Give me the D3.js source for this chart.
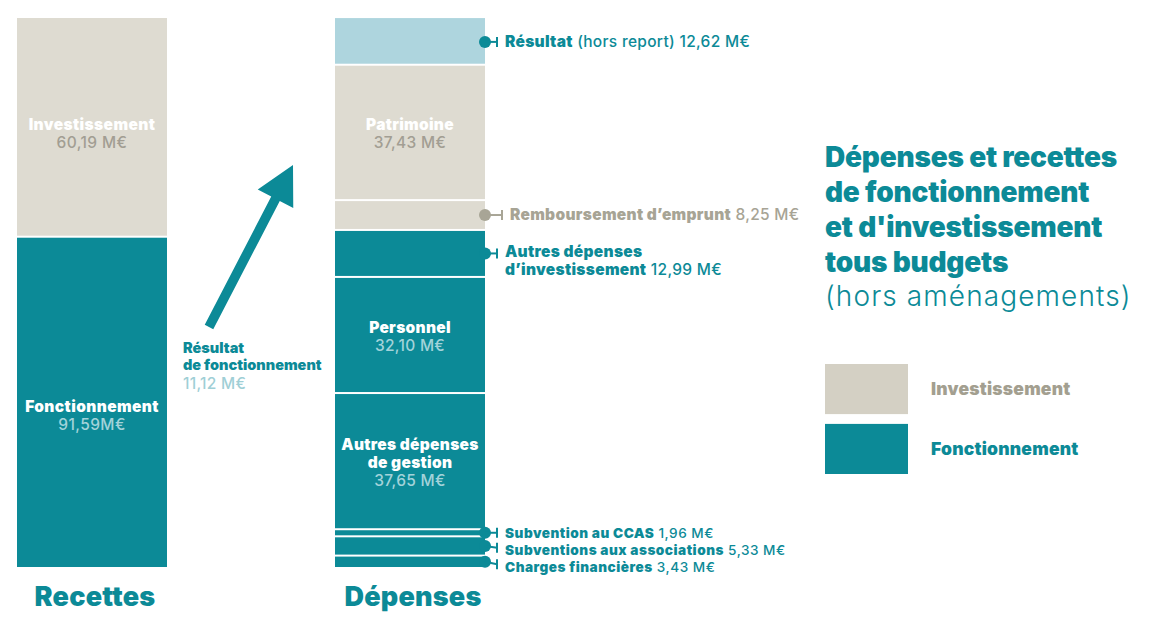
<!DOCTYPE html>
<html><head><meta charset="utf-8">
<script src="https://cdn.jsdelivr.net/npm/d3@7"></script>
<style>
html,body{margin:0;padding:0;background:#fff;}
svg{display:block;font-family:Inter,"Noto Sans",sans-serif;}
</style></head>
<body>
<svg id="c" width="1151" height="632"></svg>
<script>
// ---- data ----
const recettesNames = ["Fonctionnement", "Investissement"];
const recettesValues = [91.59, 60.19];
const recettesLabels = ["91,59M€", "60,19 M€"];
const recettesGroups = ["fonct", "invest"];

const depensesNames = ["Charges financières", "Subventions aux associations", "Subvention au CCAS",
  "Autres dépenses de gestion", "Personnel", "Autres dépenses d’investissement",
  "Remboursement d’emprunt", "Patrimoine", "Résultat"];
const depensesValues = [3.43, 5.33, 1.96, 37.65, 32.10, 12.99, 8.25, 37.43, 12.62];
const depensesLabels = ["3,43 M€", "5,33 M€", "1,96 M€", "37,65 M€", "32,10 M€", "12,99 M€", "8,25 M€", "37,43 M€", "12,62 M€"];
const depensesGroups = ["fonct", "fonct", "fonct", "fonct", "fonct", "fonct", "invest", "invest", "resultat"];
// how each expense is labelled: inside the bar or outside with a callout
const depensesInside = [false, false, false, true, true, false, false, true, false];

const resultatFonct = 11.12;
const resultatFonctLabel = "11,12 M€";
const columns = ["Recettes", "Dépenses"];
const legendItems = ["Investissement", "Fonctionnement"];
const titleLines = ["Dépenses et recettes", "de fonctionnement", "et d'investissement", "tous budgets"];
const subtitle = "(hors aménagements)";

// ---- styles / layout ----
const TEAL = "#0c8a97";
const fill = {fonct: TEAL, invest: "#dedbd1", resultat: "#aed5de"};
const valColor = {fonct: "#a3d3da", invest: "#a29e93", resultat: TEAL};
const outColor = {fonct: TEAL, invest: "#a7a495", resultat: TEAL};
const recettesLabelShift = [14, 6];
const FS = 15.5, LS = 0.3, BW = 900;

const svg = d3.select("#c");
const total = d3.max([d3.sum(recettesValues), d3.sum(depensesValues)]);
const y = d3.scaleLinear().domain([0, total]).range([567, 18]);
const x = d3.scaleBand().domain(columns).range([17, 485]).paddingInner(168/318).paddingOuter(0);
const GAP = 2;

function stack(values){ let acc = 0; return values.map(v => { const s = acc; acc += v; return [s, acc]; }); }

function drawColumn(col, values, groups){
  const st = stack(values);
  svg.append("g").selectAll("rect").data(values).join("rect")
    .attr("x", x(col)).attr("width", x.bandwidth())
    .attr("y", (d,i) => y(st[i][1]) + (i === values.length - 1 ? 0 : GAP))
    .attr("height", (d,i) => y(st[i][0]) - y(st[i][1]) - (i === values.length - 1 ? 0 : GAP))
    .attr("fill", (d,i) => fill[groups[i]]);
  return st;
}

// Recettes
const stR = drawColumn("Recettes", recettesValues, recettesGroups);
const cxR = x("Recettes") + x.bandwidth()/2;
recettesNames.forEach((n,i) => {
  const mid = (y(stR[i][0]) + y(stR[i][1]))/2 + recettesLabelShift[i];
  const t = svg.append("text").attr("text-anchor","middle").attr("font-size", FS).attr("letter-spacing", 0.4);
  t.append("tspan").attr("x", cxR).attr("y", mid - 3).attr("font-weight", BW).attr("fill","#fff").text(n);
  t.append("tspan").attr("x", cxR).attr("y", mid + 15).attr("font-weight", 500).attr("fill", valColor[recettesGroups[i]]).text(recettesLabels[i]);
});

// Dépenses
const stD = drawColumn("Dépenses", depensesValues, depensesGroups);
const cxD = x("Dépenses") + x.bandwidth()/2;
const right = x("Dépenses") + x.bandwidth();
let prevTextY = -Infinity;
// iterate from the top of the column downward for the callouts (dodging)
const order = d3.range(depensesNames.length).reverse();
order.forEach(i => {
  const n = depensesNames[i];
  const grp = depensesGroups[i];
  const mid = (y(stD[i][0]) + y(stD[i][1]))/2 + 1;
  if (depensesInside[i]) {
    const lines = n === "Autres dépenses de gestion" ? ["Autres dépenses", "de gestion"] : [n];
    const n0 = lines.length + 1;
    const t = svg.append("text").attr("text-anchor","middle").attr("font-size", FS).attr("letter-spacing", 0.3);
    const top = mid - (n0-1)*18/2 + 7;
    lines.forEach((l,k) => t.append("tspan").attr("x", cxD).attr("y", top + k*18).attr("font-weight", BW).attr("fill","#fff").text(l));
    t.append("tspan").attr("x", cxD).attr("y", top + lines.length*18).attr("font-weight", 500).attr("fill", valColor[grp]).text(depensesLabels[i]);
  } else {
    const c = outColor[grp];
    const lc = grp === "invest" ? "#a8a596" : TEAL;
    const off = grp === "invest" ? 5 : 0;
    const small = i <= 2;
    const ty = Math.max(mid, prevTextY + 17);
    prevTextY = ty;
    svg.append("circle").attr("cx", right).attr("cy", mid).attr("r", 6).attr("fill", lc);
    svg.append("path").attr("fill","none").attr("stroke", lc).attr("stroke-width", 2)
      .attr("d", `M${right},${mid} L${right+12+off},${(mid+ty)/2}`);
    svg.append("line").attr("x1", right + 12 + off).attr("x2", right + 12 + off)
      .attr("y1", (mid+ty)/2 - 5).attr("y2", (mid+ty)/2 + 5).attr("stroke", lc).attr("stroke-width", 2);
    const tx = right + 20 + off;
    const t = svg.append("text").attr("font-size", small ? 13.6 : FS).attr("letter-spacing", small ? 0.5 : LS).attr("fill", c);
    if (n === "Autres dépenses d’investissement") {
      t.append("tspan").attr("x", tx).attr("y", ty + 4).attr("font-weight", BW).text("Autres dépenses");
      t.append("tspan").attr("x", tx).attr("y", ty + 22).attr("font-weight", BW).text("d’investissement");
      t.append("tspan").attr("font-weight", 500).text(" " + depensesLabels[i]);
      prevTextY = ty + 18;
    } else if (n === "Résultat") {
      t.append("tspan").attr("x", tx).attr("y", ty + 5).attr("font-weight", BW).text(n);
      t.append("tspan").attr("font-weight", 500).text(" (hors report) " + depensesLabels[i]);
    } else {
      t.append("tspan").attr("x", tx).attr("y", ty + 5).attr("font-weight", BW).text(n);
      t.append("tspan").attr("font-weight", 500).text(" " + depensesLabels[i]);
    }
  }
});

// column titles
columns.forEach(c => {
  svg.append("text").attr("x", x(c) + x.bandwidth()/2 + 3).attr("y", 606).attr("text-anchor","middle")
    .attr("font-size", 27).attr("font-weight", BW).attr("letter-spacing", 0.2).attr("fill", TEAL).text(c);
});

// arrow (résultat de fonctionnement transfer)
const ax0 = 209, ay0 = 327, ax1 = 293, ay1 = 165;
const ang = Math.atan2(ay1 - ay0, ax1 - ax0);
const ux = Math.cos(ang), uy = Math.sin(ang), px = -uy, py = ux;
const headL = 38, headW = 20, shaftW = 4.8;
const bx = ax1 - ux*headL, by = ay1 - uy*headL;
svg.append("path").attr("fill", TEAL).attr("d", [
  "M", ax0 + px*shaftW, ay0 + py*shaftW,
  "L", bx + px*shaftW, by + py*shaftW,
  "L", bx + px*headW, by + py*headW,
  "L", ax1, ay1,
  "L", bx - px*headW, by - py*headW,
  "L", bx - px*shaftW, by - py*shaftW,
  "L", ax0 - px*shaftW, ay0 - py*shaftW, "Z"].join(" "));
const rt = svg.append("text").attr("font-size", 14.5).attr("letter-spacing", 0);
rt.append("tspan").attr("x", 183).attr("y", 353).attr("font-weight", BW).attr("fill", TEAL).text("Résultat");
rt.append("tspan").attr("x", 183).attr("y", 370).attr("font-weight", BW).attr("fill", TEAL).text("de fonctionnement");
rt.append("tspan").attr("x", 183).attr("y", 389).attr("font-weight", 500).attr("fill", "#9fcfd6").attr("font-size", 15.5).attr("letter-spacing", 0.3).text(resultatFonctLabel);

// title
titleLines.forEach((l,k) => {
  svg.append("text").attr("x", 825).attr("y", 167 + k*35).attr("font-size", 28).attr("font-weight", BW)
    .attr("letter-spacing", -0.2).attr("fill", TEAL).text(l);
});
svg.append("text").attr("x", 825).attr("y", 306).attr("font-size", 28).attr("font-weight", 300)
  .attr("letter-spacing", 1.1).attr("fill", TEAL).text(subtitle);

// legend
const lg = d3.scaleBand().domain(legendItems).range([364, 474]).paddingInner(18/110);
const legFill = {Investissement: "#d4d0c4", Fonctionnement: TEAL};
const legText = {Investissement: "#a39f90", Fonctionnement: TEAL};
legendItems.forEach(it => {
  svg.append("rect").attr("x", 825).attr("y", lg(it)).attr("width", 83).attr("height", lg.bandwidth()).attr("fill", legFill[it]);
  svg.append("text").attr("x", 931).attr("y", lg(it) + lg.bandwidth()/2 + 6).attr("font-size", 17.5).attr("font-weight", BW)
    .attr("letter-spacing", 0.2).attr("fill", legText[it]).text(it);
});
</script>
</body></html>
